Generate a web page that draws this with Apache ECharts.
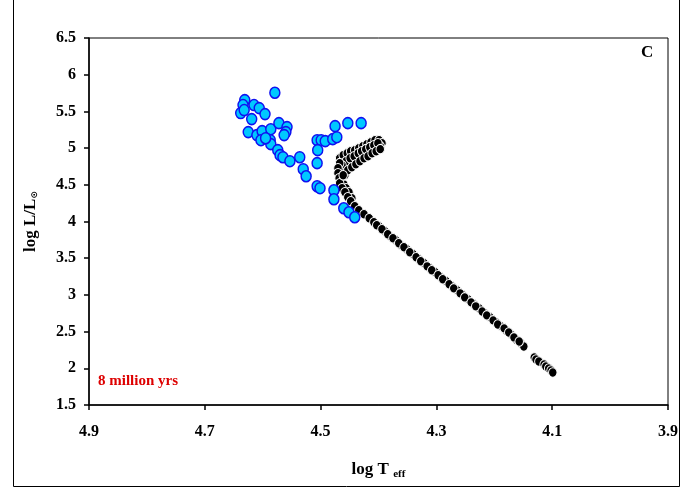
<!DOCTYPE html>
<html><head><meta charset="utf-8">
<script src="https://cdn.jsdelivr.net/npm/echarts@6/dist/echarts.min.js"></script>
<style>html,body{margin:0;padding:0;background:#fff}#c{width:682px;height:488px}</style>
</head><body><div id="c"></div>
<script>
// Axis ticks
const xTickValues = [3.9, 4.1, 4.3, 4.5, 4.7, 4.9];
const yTickValues = [1.5, 2, 2.5, 3, 3.5, 4, 4.5, 5, 5.5, 6, 6.5];

// Blue stars (observed)
const blueLogT = [4.579,4.631,4.634,4.638,4.632,4.615,4.606,4.596,4.619,4.625,4.610,4.601,4.586,4.572,4.558,4.560,4.563,4.603,4.587,4.586,4.574,4.570,4.565,4.553,4.536,4.530,4.525,4.506,4.499,4.492,4.479,4.472,4.475,4.453,4.430,4.505,4.506,4.506,4.501,4.477,4.477,4.460,4.451,4.441,4.595];
const blueLogL = [5.754,5.654,5.586,5.477,5.518,5.586,5.545,5.463,5.395,5.218,5.177,5.231,5.258,5.340,5.286,5.218,5.177,5.108,5.108,5.054,4.972,4.904,4.876,4.822,4.876,4.713,4.617,5.108,5.108,5.095,5.122,5.149,5.299,5.340,5.340,4.972,4.795,4.481,4.454,4.426,4.303,4.181,4.126,4.058,5.135];

// Black track (isochrone models): upper arm, nose and lower branch
const blackLogT = [
 4.467,4.461,4.454,4.448,4.441,4.434,4.427,4.420,4.413,4.406,4.399,4.394,
 4.460,4.453,4.446,4.439,4.432,4.425,4.418,4.411,4.404,4.397,
 4.456,4.449,4.442,4.435,4.429,4.422,4.415,4.408,4.401,
 4.463,4.465,4.463,4.460,4.456,4.451,4.446,4.458,4.453,4.446,4.439,4.432,4.425,4.418,4.411,4.404,4.397,
 4.467,4.470,4.470,4.468,4.467,4.463,4.461,
 4.458,4.453,4.448,4.441,4.434,4.425,4.416,4.408,4.399,4.389,4.380,4.370,4.361,4.351,4.340,4.330,4.321,4.311,4.302,4.292,4.283,4.273,4.264,4.254,4.245,4.235,4.226,4.216,4.207,4.197,4.188,4.180,4.171,4.163,4.154,4.149,
 4.403,4.394,4.384,4.375,4.365,4.356,4.346,4.335,4.327,4.316,4.308,4.297,4.289,4.278,4.270,4.259,4.251,4.240,4.232,4.221,4.213,4.202,4.194,4.183,4.175,4.166,4.157,
 4.131,4.128,4.123,4.114,4.111,4.106,4.102,4.099];
const blackLogL = [
 4.863,4.904,4.931,4.958,4.972,4.999,5.027,5.054,5.081,5.108,5.108,5.067,
 4.726,4.767,4.808,4.849,4.890,4.931,4.958,4.986,5.013,5.027,
 4.822,4.863,4.890,4.931,4.958,4.986,5.013,5.040,5.067,
 4.767,4.672,4.590,4.508,4.454,4.399,4.317,4.631,4.699,4.740,4.781,4.822,4.863,4.890,4.931,4.958,4.986,
 4.795,4.726,4.658,4.590,4.522,4.454,4.631,
 4.399,4.331,4.276,4.208,4.153,4.099,4.044,3.990,3.935,3.867,3.799,3.744,3.676,3.621,3.553,3.485,3.430,3.362,3.308,3.239,3.185,3.117,3.062,2.994,2.939,2.871,2.816,2.748,2.694,2.625,2.571,2.516,2.462,2.393,2.339,2.298,
 3.949,3.894,3.826,3.771,3.703,3.649,3.580,3.512,3.458,3.389,3.335,3.267,3.212,3.144,3.089,3.021,2.966,2.898,2.844,2.775,2.721,2.653,2.598,2.544,2.489,2.421,2.366,
 2.148,2.121,2.093,2.052,2.025,1.998,1.971,1.943];

const blueData = blueLogT.map((t, i) => [t, blueLogL[i]]);
const blackData = blackLogT.map((t, i) => [t, blackLogL[i]]);

const serif = "'Liberation Serif','Times New Roman',serif";
const chart = echarts.init(document.getElementById('c'), null, {renderer: 'canvas'});
chart.setOption({
  animation: false,
  backgroundColor: '#fff',
  grid: {left: 89, top: 38, right: 14, bottom: 83, show: true, borderColor: '#000', borderWidth: 1, backgroundColor: 'transparent'},
  xAxis: {
    type: 'value', min: xTickValues[0], max: xTickValues[xTickValues.length - 1], interval: 0.2, inverse: true,
    axisLine: {show: true, onZero: false, lineStyle: {color: '#000', width: 1.5}},
    axisTick: {show: true, length: 5, lineStyle: {color: '#000', width: 1.5}},
    splitLine: {show: false},
    axisLabel: {color: '#000', fontFamily: serif, fontWeight: 'bold', fontSize: 16, margin: 19,
      formatter: v => Number(v).toFixed(1)},
    name: '{a|log T }{b|eff}', nameLocation: 'middle', nameGap: 54,
    nameTextStyle: {rich: {
      a: {fontFamily: serif, fontWeight: 'bold', fontSize: 17, color: '#000'},
      b: {fontFamily: serif, fontWeight: 'bold', fontSize: 11, color: '#000', padding: [10, 0, 0, 0]}
    }}
  },
  yAxis: {
    type: 'value', min: yTickValues[0], max: yTickValues[yTickValues.length - 1], interval: 0.5,
    axisLine: {show: true, onZero: false, lineStyle: {color: '#000', width: 1.5}},
    axisTick: {show: true, length: 5, lineStyle: {color: '#000', width: 1.5}},
    splitLine: {show: false},
    axisLabel: {color: '#000', fontFamily: serif, fontWeight: 'bold', fontSize: 16, margin: 13},
    name: '{a|log L/L}{b|⊙}', nameLocation: 'middle', nameGap: 50, nameRotate: 90,
    nameTextStyle: {rich: {
      a: {fontFamily: serif, fontWeight: 'bold', fontSize: 17, color: '#000'},
      b: {fontFamily: "'DejaVu Sans',sans-serif", fontWeight: 'bold', fontSize: 9, color: '#000', padding: [8, 0, 0, 0]}
    }}
  },
  series: [
    {type: 'scatter', data: blackData, symbol: 'circle', symbolSize: [8.5, 9.5],
      itemStyle: {color: '#000', borderColor: '#fff', borderWidth: 1, opacity: 1}},
    {type: 'scatter', data: blueData, symbol: 'circle', symbolSize: [10, 11],
      itemStyle: {color: '#00C8FF', borderColor: '#1010F0', borderWidth: 1.5, opacity: 1}}
  ],
  graphic: [
    {type: 'rect', shape: {x: 13.5, y: -1, width: 666, height: 487.5}, style: {fill: 'none', stroke: '#000', lineWidth: 1}, silent: true, z: -1},
    {type: 'text', left: 641, top: 44, style: {text: 'C', font: 'bold 17px ' + serif, fill: '#000'}},
    {type: 'text', left: 98, top: 374, style: {text: '8 million yrs', font: 'bold 15px ' + serif, fill: '#DD0000'}}
  ]
});
</script>
</body></html>
